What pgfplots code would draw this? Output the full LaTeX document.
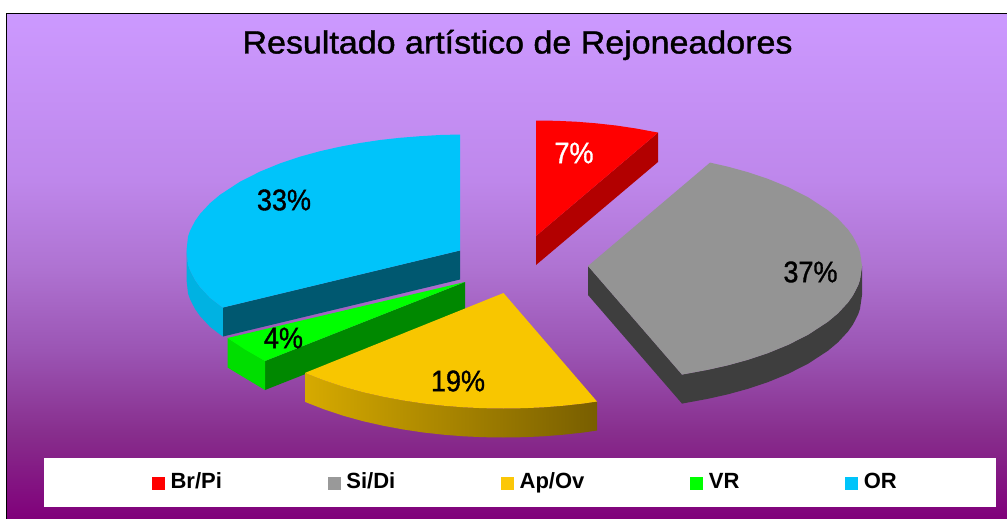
\documentclass[border=0pt]{standalone}
\usepackage{fontspec}
\setmainfont{Liberation Sans}
\usepackage{pgfplots}
\pgfplotsset{compat=1.18}
\definecolor{bga}{RGB}{204,153,255}
\definecolor{bgb}{RGB}{190,135,235}
\definecolor{bgc}{RGB}{175,115,210}
\definecolor{bgd}{RGB}{155,85,180}
\definecolor{bge}{RGB}{135,45,140}
\definecolor{bgf}{RGB}{128,0,122}
\pgfdeclareverticalshading{bgshade}{100bp}{
  color(0bp)=(bgf); color(25bp)=(bgf); color(33.3bp)=(bge); color(41.7bp)=(bgd);
  color(50bp)=(bgc); color(58.5bp)=(bgb); color(75bp)=(bga); color(100bp)=(bga)}
\definecolor{cred}{RGB}{255,0,0}
\definecolor{credd}{RGB}{178,0,0}
\definecolor{cgray}{RGB}{148,148,148}
\definecolor{cgrayd}{RGB}{62,62,62}
\definecolor{cyel}{RGB}{248,198,0}
\definecolor{cyell}{RGB}{214,170,0}
\definecolor{cyeld}{RGB}{120,94,0}
\definecolor{cgreen}{RGB}{0,255,0}
\definecolor{cgreend}{RGB}{0,136,0}
\definecolor{cgreenm}{RGB}{0,222,0}
\definecolor{cblue}{RGB}{0,196,250}
\definecolor{cblued}{RGB}{0,88,112}
\definecolor{cbluem}{RGB}{0,178,226}
\newfontfamily\fatfont[FakeBold=1.2]{Liberation Sans}
\newcommand{\lab}[1]{\fontsize{27}{30}\fatfont\scalebox{1}[1.1]{#1}}
\begin{document}
\begin{tikzpicture}
\begin{axis}[
  scale only axis, width=1007pt, height=519pt,
  xmin=0, xmax=1007, ymin=0, ymax=519, y dir=reverse,
  hide axis, clip=true,
  legend style={at={(axis cs:524.5,483)},anchor=center,draw=none,fill=none,
    legend columns=5, font=\fontsize{22}{24}\selectfont\bfseries,
    /tikz/column 2/.style={column sep=106pt},
    /tikz/column 4/.style={column sep=106pt},
    /tikz/column 6/.style={column sep=106pt},
    /tikz/column 8/.style={column sep=106pt},
    inner sep=0pt, nodes={inner sep=0pt, outer sep=0pt, text height=16pt, text depth=5pt}},
  legend cell align=left,
  area legend,
]
% page extent
\path (axis cs:0,0) rectangle (axis cs:1007,519);
% background and legend panel
\path[shading=bgshade] (axis cs:6.5,13.5) rectangle (axis cs:1007,519);
\draw[black,line width=1pt] (axis cs:6.5,519) -- (axis cs:6.5,13.5) -- (axis cs:1007,13.5);
\fill[white] (axis cs:44,457.7) rectangle (axis cs:996,507);
% legend
\addlegendimage{legend image code/.code={\fill[red] (0pt,-6pt) rectangle (12pt,6pt);\path (18pt,0pt);}}
\addlegendimage{legend image code/.code={\fill[cgray!95!white] (0pt,-6pt) rectangle (12pt,6pt);\path (18pt,0pt);}}
\addlegendimage{legend image code/.code={\fill[yellow!80!red] (0pt,-6pt) rectangle (12pt,6pt);\path (18pt,0pt);}}
\addlegendimage{legend image code/.code={\fill[green] (0pt,-6pt) rectangle (12pt,6pt);\path (18pt,0pt);}}
\addlegendimage{legend image code/.code={\fill[cblue] (0pt,-6pt) rectangle (12pt,6pt);\path (18pt,0pt);}}
\legend{Br/Pi,Si/Di,Ap/Ov,VR,OR}

% OR 33%
\addplot[draw=none,fill=cbluem] coordinates {
 (186.5,250.5)(188,264.4)(190,270.2)(195,279.9)(200,287)(210,297.8)(220,305.5)(223,307.5)
 (223,336.5)(220,334.5)(210,326.8)(200,316)(195,308.9)(190,299.2)(188,293.4)(186.5,279.5)} -- cycle;
\addplot[draw=none,fill=cblued] coordinates {
 (460,250.5)(223,307.5)(223,336.5)(460,279.5)} -- cycle;
\addplot[draw=none,fill=cblue] coordinates {
 (460,250.5)(460,134.5)(440,135)(420,136.2)(400,137.8)(380,140)(360,143)(340,146.7)(320,151.2)
 (300,156.7)(280,163.4)(260,171.6)(240,181.7)(220,194.8)(210,203.2)(200,214)(195,221.1)(190,230.8)
 (188,236.6)(186.5,250.5)(188,264.4)(190,270.2)(195,279.9)(200,287)(210,297.8)(220,305.5)(223,307.5)} -- cycle;
% VR 4%
\addplot[draw=none,fill=cgreend] coordinates {(465,282)(265,361)(265,390)(465,311)} -- cycle;
\addplot[draw=none,fill=cgreenm] coordinates {(227.5,338)(265,361)(265,390)(227.5,367.5)} -- cycle;
\addplot[draw=none,fill=cgreen] coordinates {(465,282)(227.5,338)(245,349.5)(265,361)} -- cycle;
% Ap/Ov 19%
\addplot[draw=none,left color=cyell,right color=cyeld] coordinates {
 (305,372.9)(323.5,380.1)(343.5,386.8)(363.5,392.3)(383.5,396.8)(403.5,400.5)(423.5,403.5)(443.5,405.7)
 (463.5,407.3)(483.5,408.2)(503.5,408.5)(523.5,408.2)(543.5,407.3)(563.5,405.7)(583.5,403.5)(597,401.5)
 (597,430.5)(583.5,432.5)(563.5,434.7)(543.5,436.3)(523.5,437.2)(503.5,437.5)(483.5,437.2)(463.5,436.3)
 (443.5,434.7)(423.5,432.5)(403.5,429.5)(383.5,425.8)(363.5,421.3)(343.5,415.8)(323.5,409.1)(305,401.9)} -- cycle;
\addplot[draw=none,fill=cyel] coordinates {
 (503.5,293)(597,401.5)(583.5,403.5)(563.5,405.7)(543.5,407.3)(523.5,408.2)(503.5,408.5)(483.5,408.2)
 (463.5,407.3)(443.5,405.7)(423.5,403.5)(403.5,400.5)(383.5,396.8)(363.5,392.3)(343.5,386.8)(323.5,380.1)(305,372.9)} -- cycle;
% Si/Di 37%
\addplot[draw=none,fill=cgrayd] coordinates {
 (588,266)(682,374.6)(708,369.8)(728,365.3)(748,359.8)(768,353.1)(788,344.9)(808,334.8)(828,321.7)(838,313.3)
 (848,302.5)(853,295.4)(858,285.7)(860,279.9)(862,266)
 (862,295)(860,308.9)(858,314.7)(853,324.4)(848,331.5)(838,342.3)(828,350.7)(808,363.8)(788,373.9)(768,382.1)
 (748,388.8)(728,394.3)(708,398.8)(682,403.6)(588,295)} -- cycle;
\addplot[draw=none,fill=cgray] coordinates {
 (588,266)(710,162.6)(728,166.7)(748,172.2)(768,178.9)(788,187.1)(808,197.2)(828,210.3)(838,218.7)(848,229.5)
 (853,236.6)(858,246.3)(860,252.1)(862,266)(860,279.9)(858,285.7)(853,295.4)(848,302.5)(838,313.3)(828,321.7)
 (808,334.8)(788,344.9)(768,353.1)(748,359.8)(728,365.3)(708,369.8)(688,373.5)(682,374.6)} -- cycle;
% Br/Pi 7%
\addplot[draw=none,fill=credd] coordinates {(536,236)(658,132.6)(658,162)(536,265)} -- cycle;
\addplot[draw=none,fill=cred] coordinates {
 (536,236)(536,120.5)(556,120.8)(576,121.7)(596,123.3)(616,125.5)(636,128.5)(656,132.2)(658,132.6)} -- cycle;

\node at (axis cs:517.5,45) {\fontsize{34}{36}\fatfont\scalebox{1}[.94]{Resultado artístico de Rejoneadores}};
\node[white] at (axis cs:574,153) {\lab{7\%}};
\node at (axis cs:810.5,272) {\lab{37\%}};
\node at (axis cs:458,381) {\lab{19\%}};
\node at (axis cs:283.5,338) {\lab{4\%}};
\node at (axis cs:284,200) {\lab{33\%}};
\end{axis}
\end{tikzpicture}
\end{document}
